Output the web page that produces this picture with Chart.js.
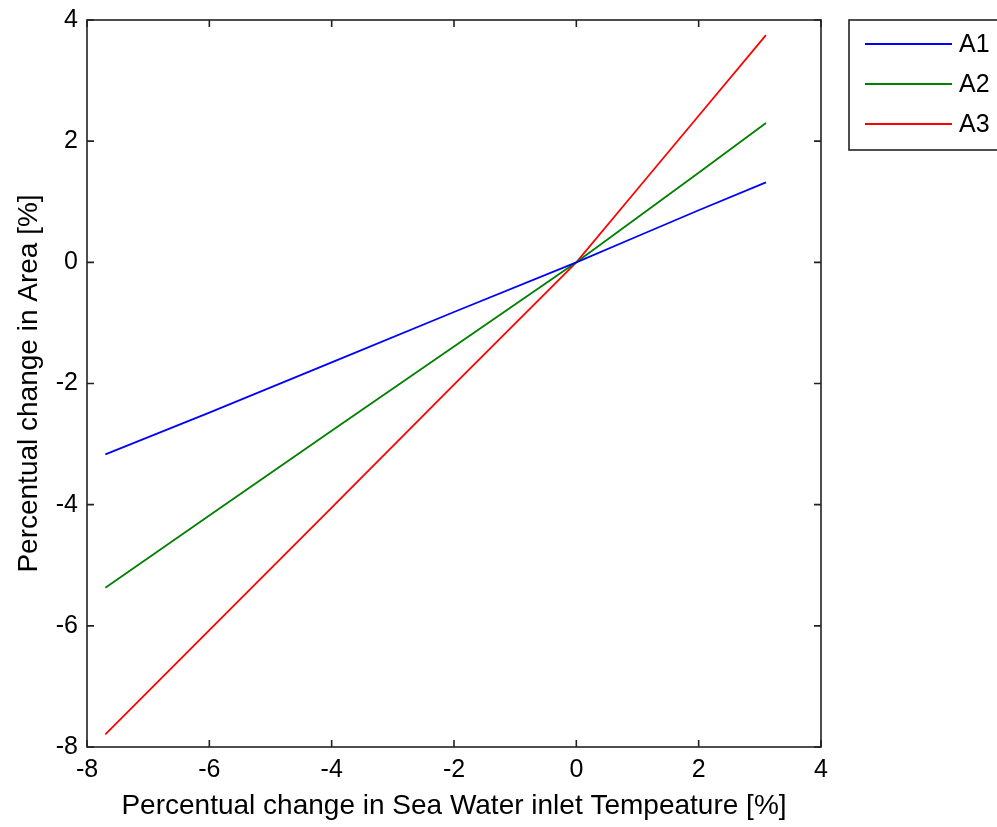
<!DOCTYPE html>
<html>
<head>
<meta charset="utf-8">
<script src="https://cdn.jsdelivr.net/npm/chart.js@4/dist/chart.umd.min.js"></script>
<style>
  html, body { margin: 0; padding: 0; background: #fff; }
  #wrap { width: 997px; height: 827px; }
</style>
</head>
<body>
<div id="wrap"><canvas id="chart"></canvas></div>
<script>
  // Values.
  const tempChange = [-7.7, -6, -4, -2, 0, 1, 2, 3.1];
  const areaA1 = [-3.17, -2.48, -1.65, -0.82, 0, 0.43, 0.86, 1.32];
  const areaA2 = [-5.37, -4.18, -2.78, -1.39, 0, 0.74, 1.48, 2.30];
  const areaA3 = [-7.79, -6.07, -4.05, -2.02, 0, 1.21, 2.42, 3.75];
  const seriesNames = ['A1', 'A2', 'A3'];
  const seriesColors = ['#0000ff', '#008000', '#ff0000'];
  const xTitle = 'Percentual change in Sea Water inlet Tempeature [%]';
  const yTitle = 'Percentual change in Area [%]';

  const FONT = '"Liberation Sans", Arial, sans-serif';

  function toPoints(ys) {
    return tempChange.map((x, i) => ({ x: x, y: ys[i] }));
  }

  // MATLAB style box with inward ticks on all four sides.
  const boxPlugin = {
    id: 'box',
    afterDatasetsDraw: function (chart) {
      const ctx = chart.ctx;
      const a = chart.chartArea;
      const xs = chart.scales.x;
      const ys = chart.scales.y;
      const len = 7;
      ctx.save();
      ctx.strokeStyle = '#222';
      ctx.lineWidth = 1.6;
      ctx.strokeRect(a.left, a.top, a.right - a.left, a.bottom - a.top);
      ctx.beginPath();
      xs.ticks.forEach(t => {
        const px = xs.getPixelForValue(t.value);
        ctx.moveTo(px, a.bottom); ctx.lineTo(px, a.bottom - len);
        ctx.moveTo(px, a.top); ctx.lineTo(px, a.top + len);
      });
      ys.ticks.forEach(t => {
        const py = ys.getPixelForValue(t.value);
        ctx.moveTo(a.left, py); ctx.lineTo(a.left + len, py);
        ctx.moveTo(a.right, py); ctx.lineTo(a.right - len, py);
      });
      ctx.stroke();
      ctx.restore();
    }
  };

  // Legend box to the right of the axes (cut off by the window edge).
  const legendPlugin = {
    id: 'boxLegend',
    afterDraw: function (chart) {
      const ctx = chart.ctx;
      const top = chart.chartArea.top;
      ctx.save();
      ctx.fillStyle = '#fff';
      ctx.strokeStyle = '#222';
      ctx.lineWidth = 1.6;
      ctx.fillRect(849, top, 160, 130);
      ctx.strokeRect(849, top, 160, 130);
      ctx.font = '25px ' + FONT;
      ctx.textBaseline = 'middle';
      chart.data.datasets.forEach((ds, i) => {
        const y = top + 24 + i * 40;
        ctx.strokeStyle = ds.borderColor;
        ctx.lineWidth = 1.8;
        ctx.beginPath();
        ctx.moveTo(865, y);
        ctx.lineTo(952, y);
        ctx.stroke();
        ctx.fillStyle = '#000';
        ctx.fillText(ds.label, 959, y + 1);
      });
      ctx.restore();
    }
  };

  new Chart(document.getElementById('chart'), {
    type: 'line',
    data: {
      datasets: [
        { label: seriesNames[0], data: toPoints(areaA1), borderColor: seriesColors[0] },
        { label: seriesNames[1], data: toPoints(areaA2), borderColor: seriesColors[1] },
        { label: seriesNames[2], data: toPoints(areaA3), borderColor: seriesColors[2] },
      ],
    },
    options: {
      responsive: true,
      maintainAspectRatio: false,
      animation: false,
      parsing: false,
      elements: {
        point: { radius: 0 },
        line: { borderWidth: 1.8, tension: 0 },
      },
      layout: {
        padding: { top: 20, right: 176, left: 0, bottom: 0 },
      },
      plugins: {
        legend: { display: false },
        tooltip: { enabled: false },
      },
      scales: {
        x: {
          type: 'linear',
          min: -8,
          max: 4,
          afterFit: function (scale) {
            scale.height = 80;
            scale.paddingLeft = 0;
            scale.paddingRight = 0;
          },
          ticks: {
            stepSize: 2,
            color: '#000',
            font: { family: FONT, size: 25 },
            padding: 8,
            maxRotation: 0,
          },
          grid: { display: false, drawTicks: false },
          border: { display: false },
          title: {
            display: true,
            text: xTitle,
            color: '#000',
            font: { family: FONT, size: 28 },
            padding: { top: 4, bottom: 4 },
          },
        },
        y: {
          type: 'linear',
          min: -8,
          max: 4,
          afterFit: function (scale) {
            scale.width = 87;
            scale.paddingTop = 0;
            scale.paddingBottom = 0;
          },
          ticks: {
            stepSize: 2,
            color: '#000',
            font: { family: FONT, size: 25 },
            padding: 9,
          },
          grid: { display: false, drawTicks: false },
          border: { display: false },
          title: {
            display: true,
            text: yTitle,
            color: '#000',
            font: { family: FONT, size: 28 },
            padding: { top: 12, bottom: 0 },
          },
        },
      },
    },
    plugins: [boxPlugin, legendPlugin],
  });
</script>
</body>
</html>
